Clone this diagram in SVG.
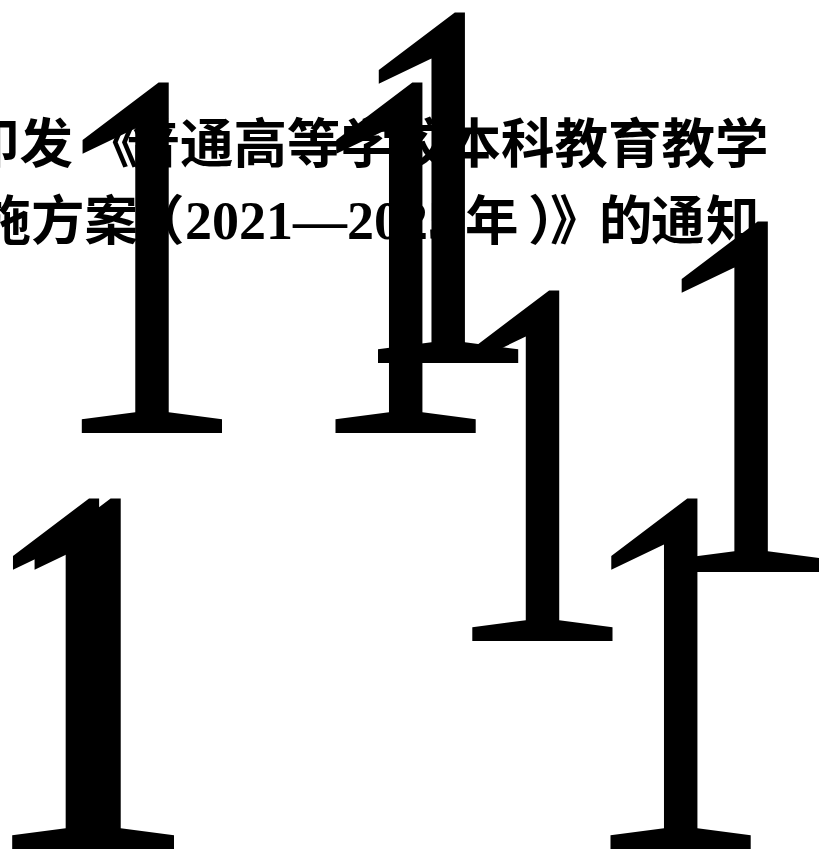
<svg xmlns="http://www.w3.org/2000/svg" width="819" height="850" viewBox="0 0 819 850">
<style>
.cjk{font-family:"Liberation Serif","Noto Sans CJK SC",serif;font-weight:bold;font-size:53.5px;fill:#000}
.num{font-family:"Liberation Serif","Noto Sans CJK SC",serif;font-weight:bold;font-size:54px;fill:#000}
.one{font-family:"Liberation Serif",serif;font-size:531px;fill:#000}
</style>
<rect width="819" height="850" fill="#fff"/>
<g id="title">
<text class="cjk" y="163" x="-34 19.5 85 126.5 180 233.5 287 340.5 394 447.5 501 554.5 608 661.5 715">印发《普通高等学校本科教育教学</text>
<text class="cjk" y="240" x="-76 -22.5 31 84.5 131">实施方案（</text>
<text class="num" x="185" y="239">2021—2025</text>
<text class="cjk" y="240" x="465 528 550 599 651 706">年）》的通知</text>
</g>
<g id="ones">
<text class="one" transform="translate(46.8 433) scale(0.75 1)">1</text>
<text class="one" transform="translate(300.5 433) scale(0.75 1)">1</text>
<text class="one" transform="translate(343 363) scale(0.75 1)">1</text>
<text class="one" transform="translate(437.3 641) scale(0.75 1)">1</text>
<text class="one" transform="translate(645.9 572) scale(0.75 1)">1</text>
<text class="one" transform="translate(-22.8 849) scale(0.75 1)">1</text>
<text class="one" transform="translate(-1.2 849) scale(0.75 1)">1</text>
<text class="one" transform="translate(575.5 849) scale(0.75 1)">1</text>
</g>
</svg>
